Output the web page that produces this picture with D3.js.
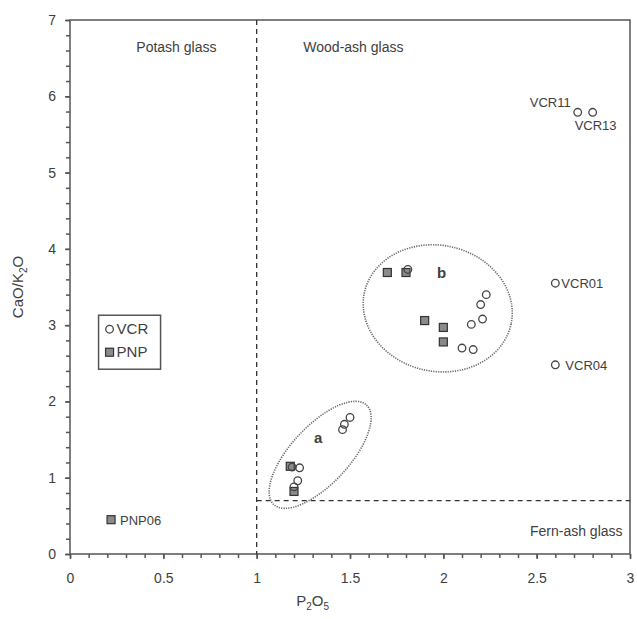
<!DOCTYPE html>
<html>
<head>
<meta charset="utf-8">
<script src="https://cdn.jsdelivr.net/npm/d3@7"></script>
<style>
  body { margin: 0; background: #fff; }
  text { font-family: "Liberation Sans", Arial, sans-serif; fill: #404040; }
</style>
</head>
<body>
<div id="chart"></div>
<script>
// data
var vcrX = [1.50, 1.47, 1.46, 1.19, 1.23, 1.22, 1.20,
            1.81, 2.23, 2.20, 2.21, 2.15, 2.10, 2.16,
            2.60, 2.60, 2.72, 2.80];
var vcrY = [1.79, 1.70, 1.63, 1.14, 1.13, 0.96, 0.88,
            3.73, 3.40, 3.27, 3.08, 3.01, 2.70, 2.68,
            3.55, 2.48, 5.79, 5.79];
var vcrNames = ["", "", "", "", "", "", "",
                "", "", "", "", "", "", "",
                "VCR01", "VCR04", "VCR11", "VCR13"];

var pnpX = [0.22, 1.18, 1.20, 1.70, 1.80, 1.90, 2.00, 2.00];
var pnpY = [0.45, 1.15, 0.82, 3.69, 3.69, 3.06, 2.97, 2.78];
var pnpNames = ["PNP06", "", "", "", "", "", "", ""];

var xMajor = [0, 0.5, 1, 1.5, 2, 2.5, 3];
var yMajor = [0, 1, 2, 3, 4, 5, 6, 7];

var regions = ["Potash glass", "Wood-ash glass", "Fern-ash glass"];
var p2o5Limit = 1, ratioLimit = 0.7;

// groups a and b (centre x, centre y in data units)
var groupNames = ["a", "b"];
var groupCx = [1.34, 1.97];
var groupCy = [1.30, 3.22];

var margin = {top: 20, right: 7, bottom: 65, left: 70},
    width = 637 - margin.left - margin.right,
    height = 619 - margin.top - margin.bottom;

var svg = d3.select("#chart")
  .append("svg")
    .attr("width", 637)
    .attr("height", 619)
  .append("g")
    .attr("transform", "translate(" + margin.left + "," + margin.top + ")");

var x = d3.scaleLinear().domain([0, 3]).range([0, width]);
var y = d3.scaleLinear().domain([0, 7]).range([height, 0]);

var axisColor = "#555";

// frame
svg.append("rect")
  .attr("width", width).attr("height", height)
  .attr("fill", "none").attr("stroke", axisColor).attr("stroke-width", 1.5);

// minor ticks
var xMinor = svg.append("g").attr("transform", "translate(0," + height + ")")
  .call(d3.axisBottom(x).tickValues(d3.range(0, 31).map(d => d / 10)).tickFormat("").tickSize(4));
var yMinor = svg.append("g")
  .call(d3.axisLeft(y).tickValues(d3.range(0, 36).map(d => d / 5)).tickFormat("").tickSize(4));

// major ticks + labels
var xAxis = svg.append("g").attr("transform", "translate(0," + height + ")")
  .call(d3.axisBottom(x).tickValues(xMajor).tickFormat(d => d).tickSize(5).tickPadding(14));
var yAxis = svg.append("g")
  .call(d3.axisLeft(y).tickValues(yMajor).tickFormat(d => d).tickSize(5).tickPadding(9));

[xMinor, yMinor, xAxis, yAxis].forEach(function(a) {
  a.select(".domain").remove();
  a.selectAll("line").attr("stroke", axisColor).attr("stroke-width", 1.5);
  a.selectAll("text").style("font-size", "14px").attr("fill", "#404040");
});

// axis titles
var xt = svg.append("text")
  .attr("x", x(1.3)).attr("y", height + 52)
  .attr("text-anchor", "middle").style("font-size", "15px");
xt.append("tspan").text("P");
xt.append("tspan").text("2").attr("dy", 4).style("font-size", "10px");
xt.append("tspan").text("O").attr("dy", -4);
xt.append("tspan").text("5").attr("dy", 4).style("font-size", "10px");

var yt = svg.append("text")
  .attr("transform", "translate(" + (-47) + "," + y(3.5) + ") rotate(-90)")
  .attr("text-anchor", "middle").style("font-size", "15px");
yt.append("tspan").text("CaO/K");
yt.append("tspan").text("2").attr("dy", 4).style("font-size", "10px");
yt.append("tspan").text("O").attr("dy", -4);

// boundaries
var dash = "5,4";
svg.append("line")
  .attr("x1", x(p2o5Limit)).attr("x2", x(p2o5Limit))
  .attr("y1", y(7)).attr("y2", y(0))
  .attr("stroke", "#333").attr("stroke-width", 1.3).attr("stroke-dasharray", dash);
svg.append("line")
  .attr("x1", x(p2o5Limit)).attr("x2", x(3))
  .attr("y1", y(ratioLimit)).attr("y2", y(ratioLimit))
  .attr("stroke", "#333").attr("stroke-width", 1.3).attr("stroke-dasharray", dash);

// region labels
svg.append("text").attr("x", x(0.57)).attr("y", y(6.58)).attr("text-anchor", "middle")
  .style("font-size", "14px").text(regions[0]);
svg.append("text").attr("x", x(1.25)).attr("y", y(6.58))
  .style("font-size", "14px").text(regions[1]);
svg.append("text").attr("x", x(2.96)).attr("y", y(0.23)).attr("text-anchor", "end")
  .style("font-size", "14px").text(regions[2]);

// group ellipses
var ell = [{rx: 68, ry: 29, rot: -47}, {rx: 75, ry: 63, rot: 12}];
groupNames.forEach(function(g, i) {
  svg.append("ellipse")
    .attr("transform", "translate(" + x(groupCx[i]) + "," + y(groupCy[i]) + ") rotate(" + ell[i].rot + ")")
    .attr("rx", ell[i].rx)
    .attr("ry", ell[i].ry)
    .attr("fill", "none").attr("stroke", "#666").attr("stroke-width", 1.6)
    .attr("stroke-dasharray", "1.2,1.2");
});
var groupLabelX = [1.33, 1.99], groupLabelY = [1.45, 3.62];
groupNames.forEach(function(g, i) {
  svg.append("text").attr("x", x(groupLabelX[i])).attr("y", y(groupLabelY[i]))
    .attr("text-anchor", "middle")
    .style("font-size", "15px").style("font-weight", "bold").attr("fill", "#333")
    .text(g);
});

// points
var vcr = vcrX.map((d, i) => ({x: d, y: vcrY[i], name: vcrNames[i]}));
var pnp = pnpX.map((d, i) => ({x: d, y: pnpY[i], name: pnpNames[i]}));

svg.selectAll(".pnp")
  .data(pnp)
  .enter()
  .append("rect")
    .attr("class", "pnp")
    .attr("x", d => x(d.x) - 4)
    .attr("y", d => y(d.y) - 4)
    .attr("width", 8).attr("height", 8)
    .attr("fill", "#8a8a8a").attr("stroke", "#333").attr("stroke-width", 1.2);

svg.selectAll(".vcr")
  .data(vcr)
  .enter()
  .append("circle")
    .attr("class", "vcr")
    .attr("cx", d => x(d.x))
    .attr("cy", d => y(d.y))
    .attr("r", 3.8)
    .attr("fill", "none").attr("stroke", "#444").attr("stroke-width", 1.3);

// point labels
var labelOffset = {
  VCR01: [6, 5, "start"], VCR04: [10, 5, "start"],
  VCR11: [-7, -5, "end"], VCR13: [-18, 18, "start"],
  PNP06: [9, 5, "start"]
};
svg.selectAll(".plabel")
  .data(vcr.concat(pnp).filter(d => d.name !== ""))
  .enter()
  .append("text")
    .attr("class", "plabel")
    .attr("x", d => x(d.x) + labelOffset[d.name][0])
    .attr("y", d => y(d.y) + labelOffset[d.name][1])
    .attr("text-anchor", d => labelOffset[d.name][2])
    .style("font-size", "13px")
    .text(d => d.name);

// legend
var legend = svg.append("g").attr("transform", "translate(" + x(0.153) + "," + y(3.13) + ")");
legend.append("rect")
  .attr("width", 62).attr("height", 54)
  .attr("fill", "#fff").attr("stroke", "#555").attr("stroke-width", 1.5);
legend.append("circle").attr("cx", 11).attr("cy", 14).attr("r", 3.8)
  .attr("fill", "none").attr("stroke", "#444").attr("stroke-width", 1.3);
legend.append("rect").attr("x", 7).attr("y", 33).attr("width", 8).attr("height", 8)
  .attr("fill", "#8a8a8a").attr("stroke", "#333").attr("stroke-width", 1.2);
legend.append("text").attr("x", 18).attr("y", 19).style("font-size", "15px").text("VCR");
legend.append("text").attr("x", 18).attr("y", 42).style("font-size", "15px").text("PNP");
</script>
</body>
</html>
